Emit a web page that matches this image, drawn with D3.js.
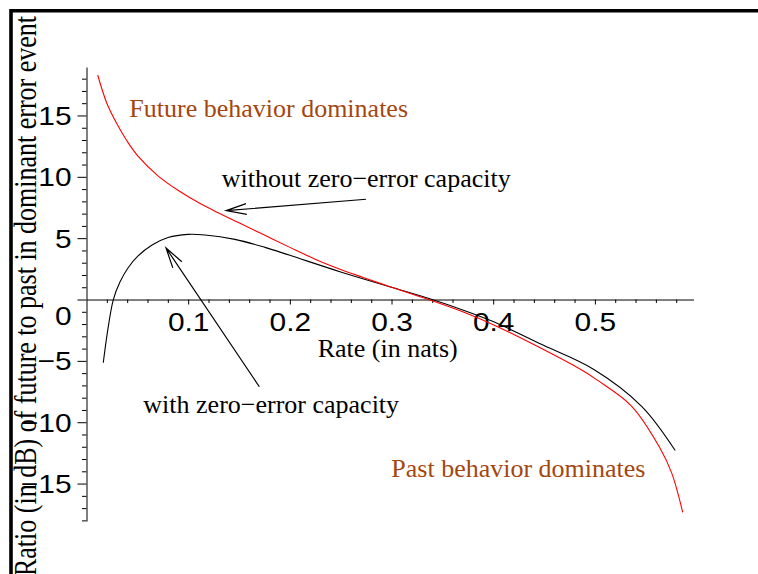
<!DOCTYPE html>
<html>
<head>
<meta charset="UTF-8">
<title>Ratio of future to past in dominant error event</title>
<script src="https://cdn.jsdelivr.net/npm/d3@7/dist/d3.min.js"></script>
<style>
  body { margin: 0; background: #fff; }
  svg { display: block; }
</style>
</head>
<body>
<svg id="chart" width="758" height="574"></svg>
<script>
// without zero-error capacity (red)
var redRate  = [0.011, 0.02, 0.03, 0.04, 0.05, 0.07, 0.09, 0.11, 0.13, 0.15, 0.175, 0.2, 0.226, 0.25, 0.272, 0.3, 0.32, 0.34, 0.37, 0.4, 0.45, 0.487, 0.502, 0.536, 0.564, 0.5756, 0.5864]
var redRatio = [18.3, 16.0, 14.3, 12.9, 11.75, 10.1, 8.9, 7.9, 7.05, 6.25, 5.25, 4.25, 3.25, 2.45, 1.8, 1.0, 0.45, -0.1, -1.0, -2.05, -4.1, -5.75, -6.55, -8.68, -12.1, -14.15, -17.35]

// with zero-error capacity (black)
var blackRate  = [0.0165, 0.0209, 0.0264, 0.0329, 0.0408, 0.0507, 0.0645, 0.0802, 0.0998, 0.1166, 0.146, 0.1755, 0.2, 0.25, 0.3, 0.34, 0.37, 0.4, 0.45, 0.499, 0.546, 0.579]
var blackRatio = [-5.15, -2.49, 0, 1.43, 2.57, 3.55, 4.44, 5.05, 5.31, 5.26, 4.9, 4.25, 3.6, 2.25, 1.0, 0, -0.85, -1.8, -3.75, -5.7, -8.7, -12.3]

var xMajor = [0.1, 0.2, 0.3, 0.4, 0.5]
var yMajor = [-15, -10, -5, 0, 5, 10, 15]

var xAxisTitle = "Rate (in nats)"
var yAxisTitle = "Ratio (in dB) of future to past in dominant error event"

var svg = d3.select("#chart")
var serif = "'Liberation Serif', 'Times New Roman', serif"
var sans = "'Liberation Sans', Arial, sans-serif"
var brown = "#a4460f"

var xScale = d3.scaleLinear().domain([0, 0.597]).range([86.5, 693.5])
var yScale = d3.scaleLinear().domain([-18.05, 18.95]).range([521, 67])

var xMinor = d3.range(1, 30).map(d => d * 0.02).filter(d => Math.abs(d * 10 - Math.round(d * 10)) > 1e-6)
var yMinor = d3.range(-18, 19).filter(d => d % 5 != 0)

// frame
svg.append("path")
  .attr("d", "M11,574V10.8H758")
  .attr("fill", "none")
  .attr("stroke", "#000")
  .attr("stroke-width", 3.6)

// x axis
var xAxisG = svg.append("g").attr("transform", "translate(0," + yScale(0) + ")")
xAxisG.append("g")
  .call(d3.axisBottom(xScale).tickValues(xMinor).tickSize(3.5).tickSizeOuter(0).tickFormat(""))
xAxisG.append("g")
  .call(d3.axisBottom(xScale).tickValues(xMajor).tickSize(5).tickPadding(8.5).tickFormat(d3.format(".1f")))
  .call(g => g.select(".domain").remove())
xAxisG.selectAll("text")
  .attr("font-family", sans)
  .attr("font-size", 26)
  .attr("fill", "#000")
  .attr("transform", "scale(1.15,1)")
xAxisG.selectAll("line, path").attr("stroke", "#000")

// y axis
var yAxisG = svg.append("g").attr("transform", "translate(" + xScale(0) + ",0)")
yAxisG.append("g")
  .call(d3.axisLeft(yScale).tickValues(yMinor).tickSize(4.5).tickSizeOuter(0).tickFormat(""))
yAxisG.append("g")
  .call(d3.axisLeft(yScale).tickValues(yMajor).tickSize(9).tickFormat(d => d < 0 ? "\u2212" + (-d) : d))
  .call(g => g.select(".domain").remove())
yAxisG.selectAll("text")
  .attr("font-family", sans)
  .attr("font-size", 26)
  .attr("fill", "#000")
  .attr("x", -15 / 1.15)
  .attr("transform", "scale(1.15,1)")
  .attr("dy", d => d === 0 ? "0.95em" : "0.34em")
yAxisG.selectAll("line, path").attr("stroke", "#000")

// curves
var line = d3.line()
  .x(d => xScale(d[0]))
  .y(d => yScale(d[1]))
  .curve(d3.curveCatmullRom.alpha(0.5))

svg.append("path")
  .attr("d", line(d3.zip(blackRate, blackRatio)))
  .attr("fill", "none")
  .attr("stroke", "#000")
  .attr("stroke-width", 1.1)

svg.append("path")
  .attr("d", line(d3.zip(redRate, redRatio)))
  .attr("fill", "none")
  .attr("stroke", "#ff0000")
  .attr("stroke-width", 1.1)

// axis titles
svg.append("text")
  .attr("x", xScale(0.2274))
  .attr("y", yScale(-4.66))
  .attr("font-family", serif)
  .attr("font-size", 26)
  .text(xAxisTitle)

svg.append("text")
  .attr("transform", "translate(35.5,296) rotate(-90) scale(1,1.2)")
  .attr("text-anchor", "middle")
  .attr("font-family", serif)
  .attr("font-size", 26)
  .text(yAxisTitle)

// annotations
var notes = [
  {text: "Future behavior dominates", r: 0.0421, v: 14.87, color: brown, anchor: "start"},
  {text: "without zero\u2212error capacity", r: 0.133, v: 9.14, color: "#000", anchor: "start"},
  {text: "with zero\u2212error capacity", r: 0.0559, v: -9.23, color: "#000", anchor: "start"},
  {text: "Past behavior dominates", r: 0.5498, v: -14.49, color: brown, anchor: "end"}
]
svg.selectAll("text.note")
  .data(notes)
  .enter()
  .append("text")
    .attr("class", "note")
    .attr("x", d => xScale(d.r))
    .attr("y", d => yScale(d.v))
    .attr("text-anchor", d => d.anchor)
    .attr("font-family", serif)
    .attr("font-size", 26)
    .attr("fill", d => d.color)
    .text(d => d.text)

// arrows: tail -> tip
var arrows = [
  {from: [0.2749, 8.17], to: [0.1374, 7.24]},
  {from: [0.170, -7.11], to: [0.0782, 4.20]}
]
arrows.forEach(function (a) {
  var x0 = xScale(a.from[0]), y0 = yScale(a.from[1])
  var x1 = xScale(a.to[0]), y1 = yScale(a.to[1])
  var ang = Math.atan2(y0 - y1, x0 - x1)
  var len = 21, spread = 15 * Math.PI / 180
  var b1 = [x1 + len * Math.cos(ang - spread), y1 + len * Math.sin(ang - spread)]
  var b2 = [x1 + len * Math.cos(ang + spread), y1 + len * Math.sin(ang + spread)]
  svg.append("path")
    .attr("d", "M" + x0 + "," + y0 + "L" + x1 + "," + y1 + "M" + b1 + "L" + x1 + "," + y1 + "L" + b2)
    .attr("fill", "none")
    .attr("stroke", "#000")
    .attr("stroke-width", 1.2)
})
</script>
</body>
</html>
